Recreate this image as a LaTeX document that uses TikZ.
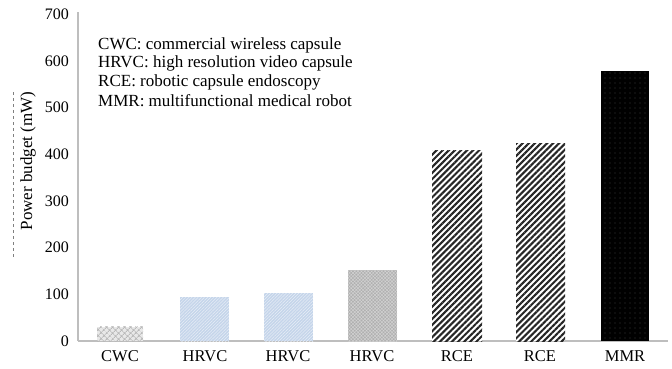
\documentclass[tikz,border=0pt]{standalone}
\usepackage{fontspec}
\setmainfont{Liberation Serif}
\usetikzlibrary{patterns.meta}
\definecolor{axisgray}{RGB}{190,190,190}
\definecolor{hrvcblue}{RGB}{197,213,234}
\begin{document}
\begin{tikzpicture}[x=1pt,y=-1pt,
  txt/.style={inner sep=0pt},
  legtxt/.style={txt,font=\fontsize{17}{19}\selectfont},
  ticktxt/.style={txt,font=\fontsize{16}{18}\selectfont},
  cattxt/.style={txt,font=\fontsize{16.5}{18}\selectfont},
  axisline/.style={draw=axisgray,line width=1.4pt},
  cwcbar/.style={fill=gray!18,postaction={pattern={Hatch[angle=45,distance=4pt,line width=0.9pt]},pattern color=gray!55}},
  bluebar/.style={fill=hrvcblue,postaction={pattern={Lines[angle=45,distance=2.2pt,line width=0.5pt]},pattern color=white!60!hrvcblue}},
  graybar/.style={fill=gray!62,postaction={pattern={Hatch[angle=45,distance=2.4pt,line width=0.5pt]},pattern color=gray!35}},
  stripebar/.style={fill=white,postaction={pattern={Lines[angle=45,distance=4.3pt,line width=2.1pt]},pattern color=black!85}},
  blackbar/.style={fill=black,postaction={pattern={Dots[radius=0.45pt,distance=5pt]},pattern color=gray!70}}
]
\useasboundingbox (0,0) rectangle (672,368);
% axes
\draw[axisline] (78,12) -- (78,341);
\draw[axisline] (78,341) -- (668,341);
% tick labels
\foreach \v/\nm in {0/t0,100/t1,200/t2,300/t3,400/t4,500/t5,600/t6,700/t7}
  \node[ticktxt,anchor=east] (\nm) at (69,{341-\v*0.467}) {\v};
% y label
\node[legtxt,rotate=90] (ylab) at (28,161) {Power budget (mW)};
\coordinate (da) at (13,92);
\coordinate (db) at (13,258);
\draw[gray,dashed,line width=0.8pt] (da) -- (db);
% bars
\path[cwcbar] (97,341) rectangle (143,{341-30*0.467});
\path[bluebar] (180,341) rectangle (229,{341-94*0.467});
\path[bluebar] (264,341) rectangle (313,{341-102*0.467});
\path[graybar] (348,341) rectangle (397,{341-152*0.467});
\path[stripebar] (432,341) rectangle (482,{341-407*0.467});
\path[stripebar] (516,341) rectangle (565,{341-423*0.467});
\path[blackbar] (601,341) rectangle (649,{341-578*0.467});
% category labels
\foreach \x/\t/\nm in {120/CWC/c1,205/HRVC/c2,288/HRVC/c3,372/HRVC/c4,457/RCE/c5,540/RCE/c6,625/MMR/c7}
  \node[cattxt,anchor=base] (\nm) at (\x,361) {\t};
% legend
\node[legtxt,anchor=west] (l1) at (98,45) {CWC: commercial wireless capsule};
\node[legtxt,anchor=west] (l2) at (98,63.5) {HRVC: high resolution video capsule};
\node[legtxt,anchor=west] (l3) at (98,82) {RCE: robotic capsule endoscopy};
\node[legtxt,anchor=west] (l4) at (98,100.5) {MMR: multifunctional medical robot};
\end{tikzpicture}
\end{document}
